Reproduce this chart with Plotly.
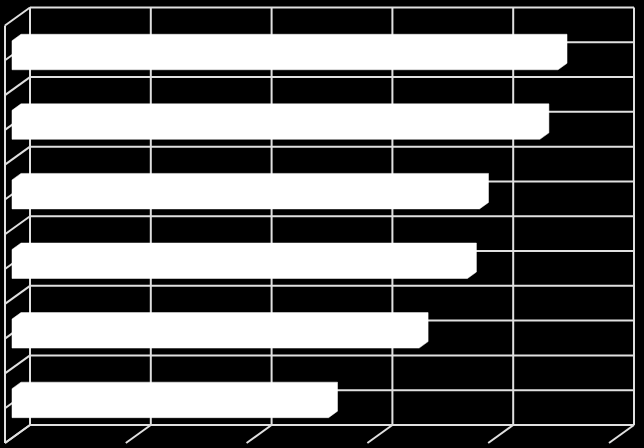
"""3D-style horizontal bar chart, white on black, no labels."""

import plotly.graph_objects as go

# Data (top to bottom)
categories = ["1", "2", "3", "4", "5", "6"]
values = [4.52, 4.37, 3.87, 3.77, 3.37, 2.62]
value_ticks = [0, 1, 2, 3, 4, 5]

# Projection: back wall -> front edge offset, in axis units
PX_X = 120.8   # pixels per value unit
PX_Y = 69.58   # pixels per category row
DX = -25 / PX_X
DY = 18 / PX_Y
D_BACK, D_FRONT = 0.36, 0.72   # bar depth span
BAR_H = 0.417

LINE_COLOR = "#e0e0e0"
n = len(categories)


def proj(x, y, d):
    return x + d * DX, y + d * DY


# Grid / walls
gx, gy = [], []


def seg(p0, p1):
    gx.extend([p0[0], p1[0], None])
    gy.extend([p0[1], p1[1], None])


vmax = value_ticks[-1]
rows = [k for k in range(n + 1)] + [k + 0.5 for k in range(n)]
for r in rows:
    seg((0, r), (vmax, r))                     # back wall
    seg(proj(0, r, 0), proj(0, r, 1))          # side wall
for v in value_ticks:
    seg((v, 0), (v, n))                        # back wall
    seg(proj(v, n, 0), proj(v, n, 1))          # floor
seg(proj(0, 0, 1), proj(0, n, 1))              # front-left edge

traces = [go.Scatter(x=gx, y=gy, mode="lines",
                     line=dict(color=LINE_COLOR, width=2),
                     hoverinfo="skip", showlegend=False)]

# Bars as extruded hexagons
for i, (cat, v) in enumerate(zip(categories, values)):
    c = i + 0.5
    top, bot = c - BAR_H / 2, c + BAR_H / 2
    pts = [
        proj(0, bot, D_FRONT),
        proj(0, top, D_FRONT),
        proj(0, top, D_BACK),
        proj(v, top, D_BACK),
        proj(v, bot, D_BACK),
        proj(v, bot, D_FRONT),
        proj(0, bot, D_FRONT),
    ]
    traces.append(go.Scatter(
        x=[p[0] for p in pts], y=[p[1] for p in pts],
        mode="lines", fill="toself", fillcolor="#ffffff",
        line=dict(color="#ffffff", width=0.5),
        name=cat, hovertext=f"{cat}: {v}", hoverinfo="text",
        showlegend=False,
    ))

fig = go.Figure(data=traces)
fig.update_layout(
    width=644, height=448,
    margin=dict(l=0, r=0, t=0, b=0),
    paper_bgcolor="#000000", plot_bgcolor="#000000",
    xaxis=dict(range=[-30 / PX_X, (644 - 30) / PX_X], visible=False, fixedrange=True),
    yaxis=dict(range=[(448 - 7.5) / PX_Y, -7.5 / PX_Y], visible=False, fixedrange=True),
)

fig.write_html(
    "out.html",
    config={"displayModeBar": False},
    post_script="document.body.style.margin='0';document.body.style.background='#000';",
)
